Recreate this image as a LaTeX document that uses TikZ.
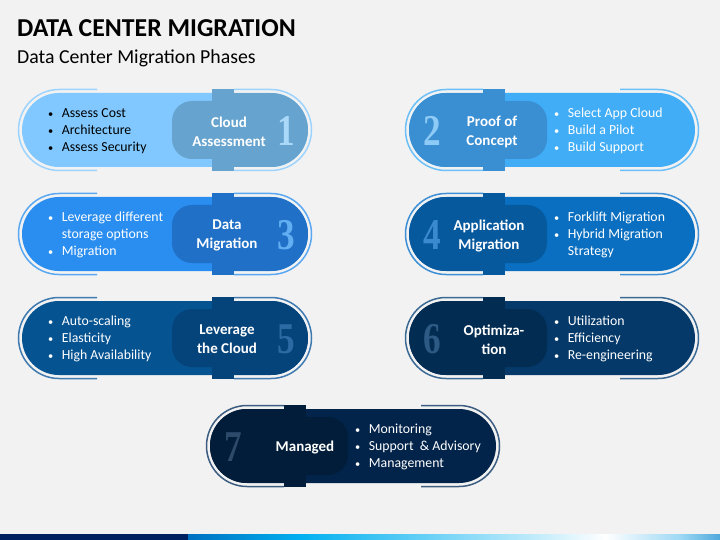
\documentclass[tikz,border=0pt]{standalone}
\usepackage{fontspec}
\usepackage{graphicx}
\setmainfont{Carlito}
\newfontfamily\numfont{Liberation Serif}
\definecolor{bg}{HTML}{F2F2F2}
\definecolor{navy}{HTML}{002060}
\definecolor{gA}{HTML}{0070C0}
\definecolor{gB}{HTML}{00B0F0}
\definecolor{gC}{HTML}{D6F2FC}
\definecolor{gD}{HTML}{FFFFFF}
\definecolor{gE}{HTML}{9ED8F4}
\definecolor{gF}{HTML}{4FA8DC}
\newcommand\bul{\raisebox{0.12ex}{\scalebox{0.75}{\textbullet}}}
\tikzset{
  outl/.style={draw=cline,line width=1.5pt,rounded corners=40.5pt},
  numtxt/.style={text=cnum,inner sep=0,font=\fontsize{44}{44}\selectfont\numfont\bfseries},
  ttltxt/.style={text=white,inner sep=0,align=center,font=\fontsize{15}{19}\selectfont\bfseries},
  bultxt/.style={text=ctext,inner sep=0,anchor=west,font=\fontsize{13.8}{17}\selectfont},
}
% x0, cy, id, number, title, bullets, title offset
\newcommand\capR[7]{%
  \fill[cbody,rounded corners=37pt] (#1,#2-37) rectangle (#1+286,#2+37);
  \begin{scope}
    \clip[rounded corners=37pt] (#1,#2-37) rectangle (#1+286,#2+37);
    \fill[cdark] (#1+190,#2-37) rectangle (#1+286,#2+37);
    \fill[cdark,rounded corners=20pt] (#1+150,#2-29) rectangle (#1+250,#2+29);
  \end{scope}
  \fill[cdark] (#1+190,#2-41) rectangle (#1+212,#2+41);
  \begin{scope}
    \clip (#1-10,#2-50) rectangle (#1+75,#2+50);
    \draw[outl] (#1-3.5,#2-40.5) rectangle (#1+289.5,#2+40.5);
  \end{scope}
  \begin{scope}
    \clip (#1+212,#2-50) rectangle (#1+300,#2+50);
    \draw[outl] (#1-3.5,#2-40.5) rectangle (#1+289.5,#2+40.5);
  \end{scope}
  \node[numtxt] (n#3) at (#1+264,#2+1) {\scalebox{0.8}[1]{#4}};
  \node[ttltxt] (t#3) at (#1+#7,#2+1.5) {#5};
  \node[bultxt] (b#3) at (#1+26,#2+1.5) {\begin{tabular}{@{}l@{\hspace{8.5pt}}l@{}}#6\end{tabular}};
}
\newcommand\capL[7]{%
  \fill[cbody,rounded corners=37pt] (#1,#2-37) rectangle (#1+286,#2+37);
  \begin{scope}
    \clip[rounded corners=37pt] (#1,#2-37) rectangle (#1+286,#2+37);
    \fill[cdark] (#1,#2-37) rectangle (#1+96,#2+37);
    \fill[cdark,rounded corners=20pt] (#1+40,#2-29) rectangle (#1+138,#2+29);
  \end{scope}
  \fill[cdark] (#1+74,#2-41) rectangle (#1+96,#2+41);
  \begin{scope}
    \clip (#1-10,#2-50) rectangle (#1+74,#2+50);
    \draw[outl] (#1-3.5,#2-40.5) rectangle (#1+289.5,#2+40.5);
  \end{scope}
  \begin{scope}
    \clip (#1+211,#2-50) rectangle (#1+300,#2+50);
    \draw[outl] (#1-3.5,#2-40.5) rectangle (#1+289.5,#2+40.5);
  \end{scope}
  \node[numtxt] (n#3) at (#1+23,#2+1) {\scalebox{0.8}[1]{#4}};
  \node[ttltxt] (t#3) at (#1+#7,#2+1.5) {#5};
  \node[bultxt] (b#3) at (#1+145,#2+1.5) {\begin{tabular}{@{}l@{\hspace{8.5pt}}l@{}}#6\end{tabular}};
}
\newcommand\setcap[5]{%
  \definecolor{cbody}{HTML}{#1}\definecolor{cdark}{HTML}{#2}%
  \definecolor{cline}{HTML}{#3}\definecolor{cnum}{HTML}{#4}\definecolor{ctext}{HTML}{#5}}
\definecolor{cbody}{HTML}{000000}\definecolor{cdark}{HTML}{000000}
\definecolor{cline}{HTML}{000000}\definecolor{cnum}{HTML}{000000}\definecolor{ctext}{HTML}{000000}
\begin{document}
\begin{tikzpicture}[x=1pt,y=-1pt]
\fill[bg] (0,0) rectangle (720,540);
\useasboundingbox (0,0) rectangle (720,540);
\node[anchor=base west,inner sep=0,font=\fontsize{25.8}{28}\selectfont\bfseries] (title) at (17,37) {DATA CENTER MIGRATION};
\node[anchor=base west,inner sep=0,font=\fontsize{19.8}{22}\selectfont] (subtitle) at (17,64) {Data Center Migration Phases};
% capsule 1
\setcap{80C8FF}{66A3CF}{9DD3FF}{AAD8F8}{000000}
\capR{22}{130}{1}{1}{Cloud\\Assessment}{\bul & Assess Cost\\ \bul & Architecture\\ \bul & Assess Security}{207}
% capsule 2
\setcap{42ADF7}{3A8ED2}{6CC0FA}{8DCBF6}{FFFFFF}
\capL{409}{130}{2}{2}{Proof of\\Concept}{\bul & Select App Cloud\\ \bul & Build a Pilot\\ \bul & Build Support}{83}
% capsule 3
\setcap{2A8DF0}{1F70C6}{5AA8F2}{62AEF2}{FFFFFF}
\capR{22}{234}{3}{3}{Data\\Migration}{\bul & Leverage different\\ & storage options\\ \bul & Migration}{205}
% capsule 4
\setcap{0A6FC0}{07599E}{3D8FD6}{3A8AD0}{FFFFFF}
\capL{409}{234}{4}{4}{Application\\Migration}{\bul & Forklift Migration\\ \bul & Hybrid Migration\\ & Strategy}{80}
% capsule 5
\setcap{065392}{05447A}{3E7AB0}{2B6AA3}{FFFFFF}
\capR{22}{338}{5}{5}{Leverage\\the Cloud}{\bul & Auto-scaling\\ \bul & Elasticity\\ \bul & High Availability}{205}
% capsule 6
\setcap{04396A}{032C52}{3A6A94}{2D5A84}{FFFFFF}
\capL{409}{338}{6}{6}{Optimiza-\\tion}{\bul & Utilization\\ \bul & Efficiency\\ \bul & Re-engineering}{85}
% capsule 7
\setcap{03244A}{021D3A}{3C5C80}{2D4A6A}{FFFFFF}
\capL{210}{446}{7}{7}{Managed}{\bul & Monitoring\\ \bul & Support\ \ \& Advisory\\ \bul & Management}{95}
% bottom bar
\fill[navy] (0,534) rectangle (188.5,540);
\shade[left color=gA,right color=gB] (188,534) rectangle (300.5,540);
\shade[left color=gB,right color=gC] (300,534) rectangle (560.5,540);
\shade[left color=gC,right color=gD] (560,534) rectangle (605.5,540);
\shade[left color=gD,right color=gE] (605,534) rectangle (680.5,540);
\shade[left color=gE,right color=gF] (680,534) rectangle (720,540);
\end{tikzpicture}
\end{document}
